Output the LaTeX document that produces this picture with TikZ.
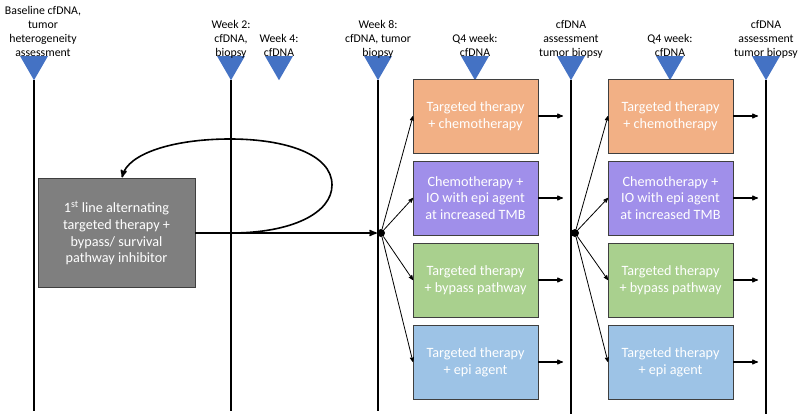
\documentclass[tikz,border=0pt]{standalone}
\usepackage{fontspec}
\setmainfont{Carlito}
\usetikzlibrary{positioning, arrows, shapes}
\definecolor{markblue}{HTML}{4472C4}
\definecolor{tcorange}{HTML}{F2B085}
\definecolor{tcpurple}{HTML}{A08FEA}
\definecolor{tcgreen}{HTML}{A9D08E}
\definecolor{tcblue}{HTML}{9DC3E6}
\definecolor{firstgray}{HTML}{7F7F7F}
\definecolor{boxline}{HTML}{3F3F3F}
\tikzset{>=stealth', node distance=8pt,
  marker/.style={regular polygon, regular polygon sides=3, shape border rotate=180,
    fill=markblue, minimum size=32.3pt, inner sep=0pt, outer sep=0pt},
  when/.style={align=center, anchor=south, inner sep=0pt, yshift=-1pt, text depth=0pt,
    font=\fontsize{11.8}{14}\selectfont},
  timeline/.style={line width=2.4pt},
  therapy/.style={draw=boxline, line width=0.8pt, minimum width=125pt, minimum height=74pt,
    align=center, text=white, inner sep=0pt, outer sep=0pt,
    font=\fontsize{14.2}{16.8}\selectfont},
  hub/.style={circle, fill=black, minimum size=8pt, inner sep=0pt},
  fan/.style={->, line width=0.8pt},
  onward/.style={->, line width=1.1pt},
  main/.style={->, line width=1.6pt}}

\begin{document}
\begin{tikzpicture}[x=1pt, y=1pt]
    \useasboundingbox (0,0) rectangle (800,416);
    \coordinate (bottom) at (0,5);
    \coordinate (bottom2) at (0,2);
    \coordinate (outL) at (563,0);
    \coordinate (outR) at (758,0);

    % time points
    \node[marker] (mA) at (34,351.9) {};
    \node[marker] (mB) at (231,351.9) {};
    \node[marker] (m4) at (279,351.9) {};
    \node[marker] (mC) at (378,351.9) {};
    \node[marker] (q1) at (475,351.9) {};
    \node[marker] (mD) at (571,351.9) {};
    \node[marker] (q2) at (670,351.9) {};
    \node[marker] (mE) at (766,351.9) {};
    \node[when, xshift=9pt] at (mA.north) {Baseline cfDNA,\\tumor\\heterogeneity\\assessment};
    \node[when] at (mB.north) {Week 2:\\cfDNA,\\biopsy};
    \node[when] at (m4.north) {Week 4:\\cfDNA};
    \node[when] at (mC.north) {Week 8:\\cfDNA, tumor\\biopsy};
    \node[when] at (q1.north) {Q4 week:\\cfDNA};
    \node[when] at (mD.north) {cfDNA\\assessment\\tumor biopsy};
    \node[when] at (q2.north) {Q4 week:\\cfDNA};
    \node[when] at (mE.north) {cfDNA\\assessment\\tumor biopsy};

    \draw[timeline] (mA.south) -- (mA.south |- bottom);
    \draw[timeline] (mB.south) -- (mB.south |- bottom);
    \draw[timeline] (mC.south) -- (mC.south |- bottom);
    \draw[timeline] (mD.south) -- (mD.south |- bottom2);
    \draw[timeline] (mE.south) -- (mE.south |- bottom2);

    % first line
    \node[therapy, fill=firstgray, minimum width=157pt, minimum height=109pt] (first) at (116.5,183)
        {1\textsuperscript{st} line alternating\\targeted therapy +\\bypass/ survival\\pathway inhibitor};
    \node[hub] (h1) at (381,183) {};
    \node[hub] (h2) at (575,183) {};
    \coordinate (loopstart) at (first.east -| mB.south);
    \coordinate (loopend) at ([xshift=5.5pt, yshift=1pt]first.north);
    \draw[main] (first.east) -- (h1);
    \draw[main] (loopstart) .. controls (292,183) and (332,203) .. (332,231)
        .. controls (332,262) and (285,277) .. (230,277)
        .. controls (172,277) and (128,262) .. (loopend);

    % options after week 8
    \node[therapy, fill=tcorange] (o1) at (475.5,300) {Targeted therapy\\+ chemotherapy};
    \node[therapy, fill=tcpurple, below=of o1] (p1) {Chemotherapy +\\IO with epi agent\\at increased TMB};
    \node[therapy, fill=tcgreen, below=of p1] (g1) {Targeted therapy\\+ bypass pathway};
    \node[therapy, fill=tcblue, below=of g1] (b1) {Targeted therapy\\+ epi agent};

    % options after the next assessment
    \node[therapy, fill=tcorange] (o2) at (670.5,300) {Targeted therapy\\+ chemotherapy};
    \node[therapy, fill=tcpurple, below=of o2] (p2) {Chemotherapy +\\IO with epi agent\\at increased TMB};
    \node[therapy, fill=tcgreen, below=of p2] (g2) {Targeted therapy\\+ bypass pathway};
    \node[therapy, fill=tcblue, below=of g2] (b2) {Targeted therapy\\+ epi agent};

    \draw[fan] (h1) -- (o1.west);
    \draw[fan] (h1) -- (p1.west);
    \draw[fan] (h1) -- (g1.west);
    \draw[fan] (h1) -- (b1.west);
    \draw[fan] (h2) -- (o2.west);
    \draw[fan] (h2) -- (p2.west);
    \draw[fan] (h2) -- (g2.west);
    \draw[fan] (h2) -- (b2.west);

    \draw[onward] (o1.east) -- (o1.east -| outL);
    \draw[onward] (p1.east) -- (p1.east -| outL);
    \draw[onward] (g1.east) -- (g1.east -| outL);
    \draw[onward] (b1.east) -- (b1.east -| outL);
    \draw[onward] (o2.east) -- (o2.east -| outR);
    \draw[onward] (p2.east) -- (p2.east -| outR);
    \draw[onward] (g2.east) -- (g2.east -| outR);
    \draw[onward] (b2.east) -- (b2.east -| outR);
\end{tikzpicture}
\end{document}
